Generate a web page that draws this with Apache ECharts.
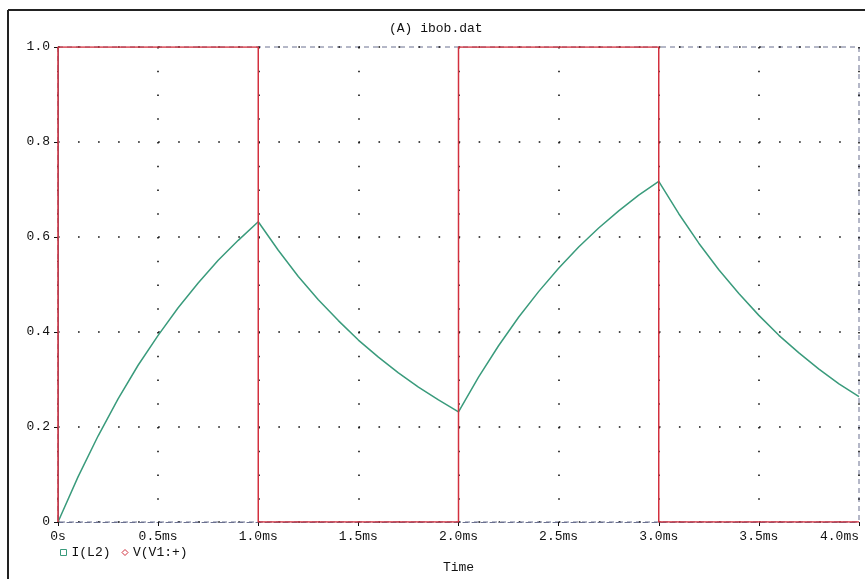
<!DOCTYPE html>
<html>
<head>
<meta charset="utf-8">
<script src="https://cdn.jsdelivr.net/npm/echarts@6/dist/echarts.min.js"></script>
<style>
html,body{margin:0;padding:0;background:#fff;}
#chart{width:865px;height:579px;}
</style>
</head>
<body>
<div id="chart"></div>
<script>
// Time in ms (every 0.1 ms)
const timeMs = [0,0.1,0.2,0.3,0.4,0.5,0.6,0.7,0.8,0.9,1.0,1.1,1.2,1.3,1.4,1.5,1.6,1.7,1.8,1.9,2.0,2.1,2.2,2.3,2.4,2.5,2.6,2.7,2.8,2.9,3.0,3.1,3.2,3.3,3.4,3.5,3.6,3.7,3.8,3.9,4.0];
// I(L2)
const iL2 = [0,0.095,0.181,0.259,0.330,0.393,0.451,0.503,0.551,0.593,0.632,0.572,0.517,0.468,0.424,0.383,0.347,0.314,0.284,0.257,0.232,0.305,0.371,0.431,0.485,0.534,0.579,0.619,0.655,0.688,0.717,0.649,0.587,0.531,0.481,0.435,0.393,0.356,0.322,0.291,0.264];
// V(V1:+) square wave corners
const vTime = [0,0,1,1,2,2,3,3,4];
const vVal  = [0,1,1,0,0,1,1,0,0];
const xTickLabels = {0:'0s',0.5:'0.5ms',1:'1.0ms',1.5:'1.5ms',2:'2.0ms',2.5:'2.5ms',3:'3.0ms',3.5:'3.5ms',4:'4.0ms'};
const yTickLabels = {0:'0',0.2:'0.2',0.4:'0.4',0.6:'0.6',0.8:'0.8',1:'1.0'};
const seriesNames = ['I(L2)','V(V1:+)'];
const titleText = '(A) ibob.dat';
const xName = 'Time';

const green = '#3a9b7c', red = '#d2303e', frame = '#6b7190', ink = '#111';
const mono = "'Liberation Mono', 'DejaVu Sans Mono', monospace";

const chart = echarts.init(document.getElementById('chart'), null, {renderer:'canvas'});
chart.setOption({
  backgroundColor:'#fff',
  animation:false,
  title:{text:titleText,left:384,top:17,textStyle:{fontFamily:mono,fontSize:13,fontWeight:'normal',color:ink}},
  legend:{
    left:55,top:541,itemWidth:6,itemHeight:6,itemGap:11,
    textStyle:{fontFamily:mono,fontSize:13,color:ink},
    data:[
      {name:seriesNames[0],icon:'rect',itemStyle:{color:'#fff',borderColor:green,borderWidth:1}},
      {name:seriesNames[1],icon:'diamond',itemStyle:{color:'#fff',borderColor:red,borderWidth:1}}
    ]
  },
  grid:{left:58,top:47,right:6,bottom:57,outerBoundsMode:'none',containLabel:false,show:true,borderColor:frame,borderWidth:1,borderType:[5,4],backgroundColor:'transparent'},
  xAxis:{
    type:'value',min:0,max:4,interval:0.5,
    name:xName,nameLocation:'middle',nameGap:39,
    nameTextStyle:{fontFamily:mono,fontSize:13,color:ink},
    axisLine:{show:true,lineStyle:{color:frame,type:[5,4],width:1}},
    axisTick:{show:true,length:4,lineStyle:{color:ink}},
    axisLabel:{fontFamily:mono,fontSize:13,color:ink,margin:8,alignMaxLabel:'right',formatter:v=>xTickLabels[Math.round(v*10)/10]},
    splitLine:{show:true,lineStyle:{color:ink,width:1.6,type:[1.6,22.15]}}
  },
  yAxis:{
    type:'value',min:0,max:1,interval:0.2,
    axisLine:{show:true,lineStyle:{color:frame,width:1}},
    axisTick:{show:true,length:4,lineStyle:{color:ink}},
    axisLabel:{fontFamily:mono,fontSize:13,color:ink,margin:8,formatter:v=>yTickLabels[Math.round(v*10)/10]},
    splitLine:{show:true,lineStyle:{color:ink,width:1.6,type:[1.6,18.43]}}
  },
  graphic:[
    {type:'line',shape:{x1:8,y1:10,x2:8,y2:579},style:{stroke:'#222',lineWidth:2}},
    {type:'line',shape:{x1:8,y1:10,x2:865,y2:10},style:{stroke:'#222',lineWidth:2}}
  ],
  series:[
    {name:seriesNames[0],type:'line',showSymbol:false,smooth:false,
     lineStyle:{color:green,width:1.5},itemStyle:{color:green},
     data:timeMs.map((t,i)=>[t,iL2[i]]),z:3},
    {name:seriesNames[1],type:'line',showSymbol:false,
     lineStyle:{color:red,width:1.5},itemStyle:{color:red},
     data:vTime.map((t,i)=>[t,vVal[i]]),z:4}
  ]
});
</script>
</body>
</html>
